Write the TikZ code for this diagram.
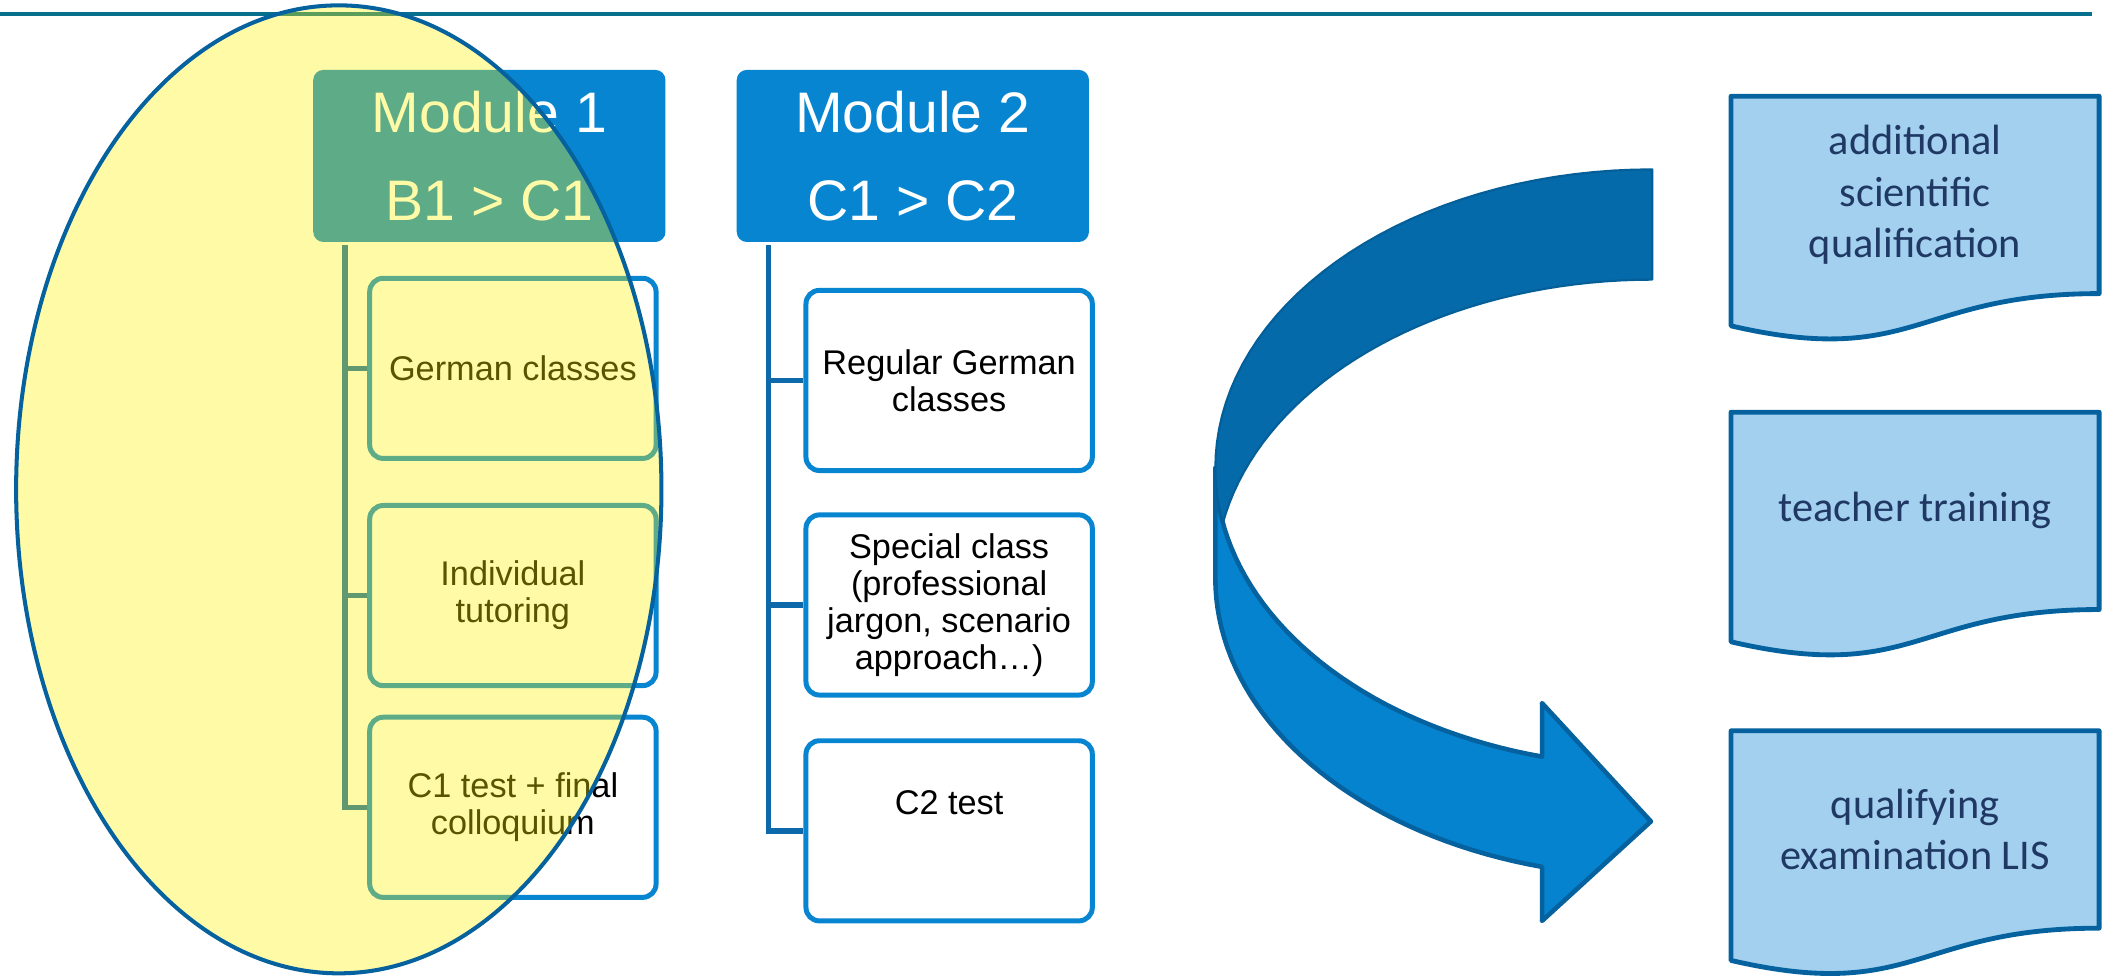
\documentclass[tikz,border=0pt]{standalone}
\usepackage{fontspec}
\setmainfont{Liberation Sans}
\newfontfamily\docfont{Carlito}
\usepackage{tikz}
\usetikzlibrary{positioning,backgrounds,calc}
\definecolor{mdRule}{HTML}{07708C}
\definecolor{mdBlue}{HTML}{0885D0}
\definecolor{mdTree}{HTML}{0E69AB}
\definecolor{mdEdge}{HTML}{05629F}
\definecolor{mdBack}{HTML}{046AAA}
\definecolor{mdFront}{HTML}{0583CF}
\definecolor{mdPale}{HTML}{A2D0EE}
\definecolor{mdNavy}{HTML}{1F3864}

\begin{document}
\begin{tikzpicture}[x=0.5pt,y=-0.5pt,
  head/.style={fill=mdBlue,rounded corners=3.75pt,minimum width=131pt,minimum height=64pt,
               align=center,text=white,font=\fontsize{21.25}{32.5}\selectfont},
  sub/.style={draw=mdBlue,fill=white,line width=1.85pt,rounded corners=5pt,minimum width=106.5pt,
              minimum height=67pt,align=center,font=\fontsize{12.75}{13.75}\selectfont},
  tree/.style={mdTree,line width=2pt},
  doc/.style={minimum width=136.5pt,minimum height=73pt,align=center,text=mdNavy,
              font=\docfont\fontsize{15.75}{19.25}\selectfont},
  docline/.style={draw=mdEdge,fill=mdPale,line width=1.8pt,line join=round},
  bandpart/.style={draw=mdEdge,line width=1.7pt,line join=round},
  hl/.style={draw=mdEdge,line width=1.5pt,fill=yellow,fill opacity=0.35}]
\useasboundingbox (0,0) rectangle (1568,726);

% rule on top
\draw[mdRule,line width=1.5pt] (0,10.5) -- (1556,10.5);

% curved arrow: front band, then back band
\filldraw[bandpart,fill=mdFront] plot[domain=180:104.6,samples=40] ({1229+325*cos(\x)},{348+222*sin(\x)})
  -- (1147,523) -- (1228,611) -- (1147,685)
  -- plot[domain=104.6:180,samples=40] ({1229+325*cos(\x)},{430+222*sin(\x)}) -- cycle;
\filldraw[bandpart,fill=mdBack,draw=mdBack!90!black,line width=0.8pt]
  plot[domain=270:169.36,samples=40] ({1229+325*cos(\x)},{348+222*sin(\x)})
  -- plot[domain=190.64:270,samples=40] ({1229+325*cos(\x)},{430+222*sin(\x)}) -- cycle;

% outcomes
\node[doc] (d1) at (1424.5,145) {additional\\scientific\\qualification};
\node[doc] (d2) at (1424.5,380) {teacher training};
\node[doc] (d3) at (1424.5,617) {qualifying\\examination LIS};
\begin{scope}[on background layer]
\foreach \nd in {d1,d2,d3}
  \draw[docline] (\nd.north west) -- (\nd.north east) -- (\nd.south east)
    .. controls (\nd.south) and ([yshift=-27.8pt]\nd.south) .. ([yshift=-12pt]\nd.south west) -- cycle;
\end{scope}

% module 2
\node[head] (m2) at (679,116) {Module 2\\C1 > C2};
\node[sub] (m2a) at (706,283) {Regular German\\classes};
\node[sub] (m2b) at (706,450) {Special class\\(professional\\jargon, scenario\\approach…)};
\node[sub,text depth=21pt] (m2c) at (706,618) {C2 test};
\foreach \sb in {m2a,m2b,m2c}
  \draw[tree] ([xshift=12pt,yshift=-1pt]m2.south west) |- (\sb.west);

% module 1
\node[head] (m1) at (364,116) {Module 1\\B1 > C1};
\node[sub] (m1a) at (381.5,274) {German classes};
\node[sub] (m1b) at (381.5,443) {Individual\\tutoring};
\node[sub] (m1c) at (381.5,600.5) {C1 test + final\\colloquium};
\foreach \sb in {m1a,m1b,m1c}
  \draw[tree] ([xshift=12pt,yshift=-1pt]m1.south west) |- (\sb.west);

% highlight over module 1
\draw[hl] (252,364) ellipse [x radius=120pt,y radius=180pt];
\end{tikzpicture}
\end{document}
